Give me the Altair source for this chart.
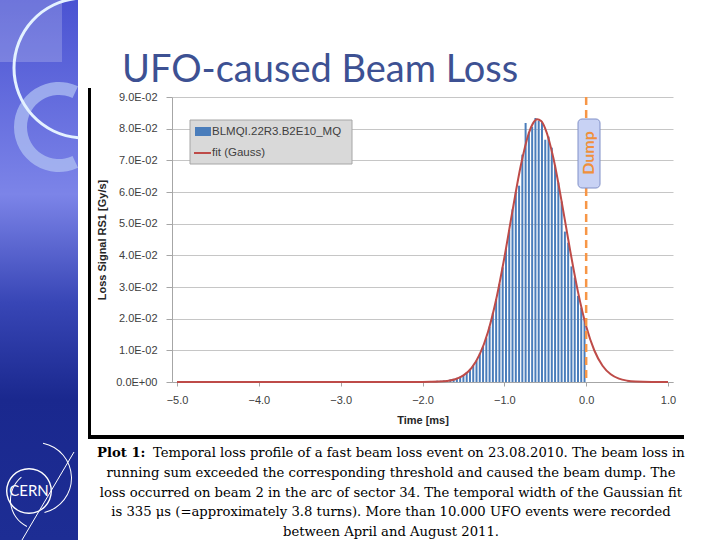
import altair as alt
import pandas as pd

# ---------------- data ----------------
bar_t = [-1.98, -1.94, -1.90, -1.86, -1.82, -1.78, -1.74, -1.70, -1.66, -1.62,
         -1.58, -1.54, -1.50, -1.46, -1.42, -1.38, -1.34, -1.30, -1.26, -1.22,
         -1.18, -1.14, -1.10, -1.06, -1.02, -0.98, -0.94, -0.90, -0.86, -0.82,
         -0.78, -0.74, -0.70, -0.66, -0.62, -0.58, -0.54, -0.50, -0.46, -0.42,
         -0.38, -0.34, -0.30, -0.26, -0.22, -0.18, -0.14, -0.10, -0.06, -0.02]
bar_v = [0.0002, 0.0002, 0.0003, 0.0003, 0.0004, 0.0004, 0.0005, 0.0006, 0.0008, 0.0010,
         0.0013, 0.0017, 0.0022, 0.0030, 0.0040, 0.0052, 0.0068, 0.0090, 0.0113, 0.0140,
         0.0175, 0.0218, 0.0262, 0.0310, 0.0362, 0.0420, 0.0480, 0.0545, 0.0600, 0.0620,
         0.0718, 0.0818, 0.0790, 0.0806, 0.0834, 0.0825, 0.0820, 0.0765, 0.0775, 0.0740,
         0.0685, 0.0630, 0.0570, 0.0475, 0.0440, 0.0365, 0.0330, 0.0272, 0.0235, 0.0200]

fit_t = [-5.0, -2.4, -2.2, -2.0, -1.9, -1.8, -1.7, -1.6, -1.5, -1.4, -1.3, -1.2, -1.1,
         -1.0, -0.9, -0.8, -0.7, -0.65, -0.6, -0.55, -0.5, -0.4, -0.3, -0.2, -0.1,
         0.0, 0.1, 0.2, 0.3, 0.4, 0.5, 0.6, 0.8, 1.0]
fit_v = [0.0, 0.0, 0.000001, 0.000012, 0.00004, 0.00012, 0.00034, 0.00088, 0.00208,
         0.00446, 0.00878, 0.01581, 0.02605, 0.03925, 0.05410, 0.06820, 0.07864,
         0.08167, 0.08296, 0.08241, 0.08005, 0.07067, 0.05706, 0.04215, 0.02847,
         0.01760, 0.00995, 0.00515, 0.00243, 0.00105, 0.00042, 0.00015, 0.000015, 0.0]

y_ticks = [0.0, 0.01, 0.02, 0.03, 0.04, 0.05, 0.06, 0.07, 0.08, 0.09]
x_ticks = [-5.0, -4.0, -3.0, -2.0, -1.0, 0.0, 1.0]
dump_t = [0.0]

title_text = "UFO-caused Beam Loss"
x_title = "Time [ms]"
y_title = "Loss Signal RS1 [Gy/s]"
legend_labels = ["BLMQI.22R3.B2E10_MQ", "fit (Gauss)"]
dump_label = "Dump"
caption_bold = "Plot 1:"
caption_first = "Temporal loss profile of a fast beam loss event on 23.08.2010. The beam loss in"
caption_lines = [
    "running sum  exceeded the corresponding threshold and caused the beam dump. The",
    "loss occurred on beam 2 in the arc of sector 34. The temporal width of the Gaussian fit",
    "is 335 \u03bcs (=approximately 3.8 turns). More than 10.000  UFO events were recorded",
    "between April and August 2011.",
]

# ---------------- layout ----------------
W, H = 720, 540
PL, PT = 172, 97          # plot origin in page px
PW, PH = 501, 285         # plot size


def px(x):
    return x - PL


def py(y):
    return y - PT


one = pd.DataFrame({"a": [0]})
bars_df = pd.DataFrame({"t": bar_t, "v": bar_v})
fit_df = pd.DataFrame({"t": fit_t, "v": fit_v})
dump_df = pd.DataFrame({"t": dump_t})

xscale = alt.Scale(domain=[-5, 1], nice=False, zero=False)
yscale = alt.Scale(domain=[0, 0.09], nice=False)
x_axis = alt.Axis(values=x_ticks, format=".1f", title=x_title, grid=False,
                  tickSize=4, labelPadding=8, titlePadding=9, labelOverlap=False)
y_axis = alt.Axis(values=y_ticks, title=y_title, grid=True, tickSize=6,
                  labelPadding=9, titlePadding=8, labelOverlap=False,
                  labelExpr="datum.value == 0 ? '0.0E+00' : format(datum.value*100, '.1f') + 'E-02'")
X = alt.X("t:Q", scale=xscale, axis=x_axis)
Y = alt.Y("v:Q", scale=yscale, axis=y_axis)

bars = alt.Chart(bars_df).mark_bar(width=2.0, color="#4a7dbb").encode(x=X, y=Y)

fit = alt.Chart(fit_df).mark_line(color="#be4b48", strokeWidth=2, interpolate="monotone").encode(
    x=X, y=Y)

dump = alt.Chart(dump_df).mark_rule(color="#f79646", strokeWidth=2.5, strokeDash=[8, 5]).encode(
    x=X)

dump_box = alt.Chart(one).mark_rect(cornerRadius=4, fill="#c8d2f4", stroke="#8090c8",
                                    strokeWidth=1).encode(
    x=alt.value(px(578)), x2=alt.value(px(600)), y=alt.value(py(119)), y2=alt.value(py(188)))
dump_text = alt.Chart(one).mark_text(text=dump_label, angle=270, color="#f0903c", fontSize=16,
                                     fontWeight="bold", font="Lato", align="center",
                                     baseline="middle").encode(
    x=alt.value(px(589)), y=alt.value(py(153)))

# legend
leg_box = alt.Chart(one).mark_rect(fill="#d9d9d9", stroke="#a6a6a6", strokeWidth=1).encode(
    x=alt.value(px(190)), x2=alt.value(px(352)), y=alt.value(py(120)), y2=alt.value(py(164)))
leg_sq = alt.Chart(one).mark_rect(fill="#4a7dbb").encode(
    x=alt.value(px(195)), x2=alt.value(px(211)), y=alt.value(py(127)), y2=alt.value(py(136)))
leg_ln = alt.Chart(one).mark_rule(color="#be4b48", strokeWidth=2).encode(
    x=alt.value(px(194)), x2=alt.value(px(211)), y=alt.value(py(153)))
leg_t1 = alt.Chart(one).mark_text(text=legend_labels[0], font="Liberation Sans", fontSize=11.5,
                                  color="#404040", align="left", baseline="middle").encode(
    x=alt.value(px(212)), y=alt.value(py(132)))
leg_t2 = alt.Chart(one).mark_text(text=legend_labels[1], font="Liberation Sans", fontSize=11.5,
                                  color="#404040", align="left", baseline="middle").encode(
    x=alt.value(px(212)), y=alt.value(py(153)))

# slide decorations
grad = alt.LinearGradient(
    gradient="linear", x1=0, x2=0, y1=0, y2=1,
    stops=[alt.GradientStop(offset=0.0, color="#4a53d2"),
           alt.GradientStop(offset=0.36, color="#7c84e8"),
           alt.GradientStop(offset=0.56, color="#3846b6"),
           alt.GradientStop(offset=0.74, color="#1a288e"),
           alt.GradientStop(offset=1.0, color="#1d2d94")])
strip = alt.Chart(one).mark_rect(color=grad).encode(
    x=alt.value(px(0)), x2=alt.value(px(78)), y=alt.value(py(0)), y2=alt.value(py(540)))
corner = alt.Chart(one).mark_rect(color="white", opacity=0.2).encode(
    x=alt.value(px(0)), x2=alt.value(px(62)), y=alt.value(py(0)), y2=alt.value(py(62)))
ring2 = alt.Chart(one).mark_arc(radius=45, radius2=32, theta=2.705, theta2=6.72,
                                color="#b4c4f4", opacity=0.7).encode(
    x=alt.value(px(59)), y=alt.value(py(127)))
ring1 = alt.Chart(one).mark_arc(radius=71.5, radius2=68.5, theta=3.22, theta2=6.205,
                                color="#e4f2ff").encode(
    x=alt.value(px(84)), y=alt.value(py(68)))
logo_c = alt.Chart(one).mark_arc(radius=23, radius2=21.6, theta=0, theta2=6.2832,
                                 color="white").encode(
    x=alt.value(px(29)), y=alt.value(py(491)))
logo_a = alt.Chart(one).mark_arc(radius=36, radius2=35, theta=0.2, theta2=2.9,
                                 color="white").encode(
    x=alt.value(px(36)), y=alt.value(py(478)))
logo_b = alt.Chart(one).mark_arc(radius=30, radius2=29, theta=3.6, theta2=5.6,
                                 color="white").encode(
    x=alt.value(px(40)), y=alt.value(py(500)))
logo_l = alt.Chart(one).mark_rule(color="white", strokeWidth=1).encode(
    x=alt.value(px(22)), y=alt.value(py(540)), x2=alt.value(px(74)), y2=alt.value(py(452)))
logo_t = alt.Chart(one).mark_text(text="CERN", color="white", font="Lato", fontSize=15,
                                  align="center", baseline="middle").encode(
    x=alt.value(px(29)), y=alt.value(py(491)))

# frame of the chart picture
frame_l = alt.Chart(one).mark_rule(color="black", strokeWidth=3).encode(
    x=alt.value(px(89.5)), y=alt.value(py(88)), y2=alt.value(py(439)))
frame_b = alt.Chart(one).mark_rule(color="black", strokeWidth=4).encode(
    x=alt.value(px(88)), x2=alt.value(px(684)), y=alt.value(py(437)))

# title
title_tx = alt.Chart(one).mark_text(text=title_text, font="Lato", fontSize=38, color="#3d5193",
                                    align="left", baseline="alphabetic").encode(
    x=alt.value(px(122)), y=alt.value(py(82)))

# caption
cap_font = "DejaVu Serif"
cap_size = 13.2
cap_b = alt.Chart(one).mark_text(text=caption_bold, font=cap_font, fontSize=cap_size,
                                 fontWeight="bold", color="black", align="left",
                                 baseline="middle").encode(
    x=alt.value(px(97)), y=alt.value(py(453)))
cap_1 = alt.Chart(one).mark_text(text=caption_first, font=cap_font, fontSize=cap_size,
                                 color="black", align="left", baseline="middle").encode(
    x=alt.value(px(153)), y=alt.value(py(453)))
cap_layers = []
for i, line in enumerate(caption_lines):
    cap_layers.append(
        alt.Chart(one).mark_text(text=line, font=cap_font, fontSize=cap_size, color="black",
                                 align="center", baseline="middle").encode(
            x=alt.value(px(391)), y=alt.value(py(473 + 19.5 * i))))

chart = alt.layer(
    strip, corner, ring2, ring1, logo_c, logo_a, logo_b, logo_l, logo_t,
    bars, fit, dump, dump_box, dump_text,
    leg_box, leg_sq, leg_ln, leg_t1, leg_t2,
    frame_l, frame_b, title_tx, cap_b, cap_1, *cap_layers,
).properties(
    width=PW, height=PH,
    autosize=alt.AutoSizeParams(type="none"),
    padding={"left": PL, "top": PT, "right": W - PL - PW, "bottom": H - PT - PH},
    background="white",
).configure_view(stroke=None).configure_axis(
    labelFont="Liberation Sans", labelFontSize=11, labelColor="#404040",
    titleFont="Liberation Sans", titleFontSize=11, titleFontWeight="bold", titleColor="#262626",
    domainColor="#a6a6a6", tickColor="#a6a6a6", gridColor="#c6c6c6", gridWidth=1,
)

chart.save("out.html", embed_options={"renderer": "svg", "actions": False})
